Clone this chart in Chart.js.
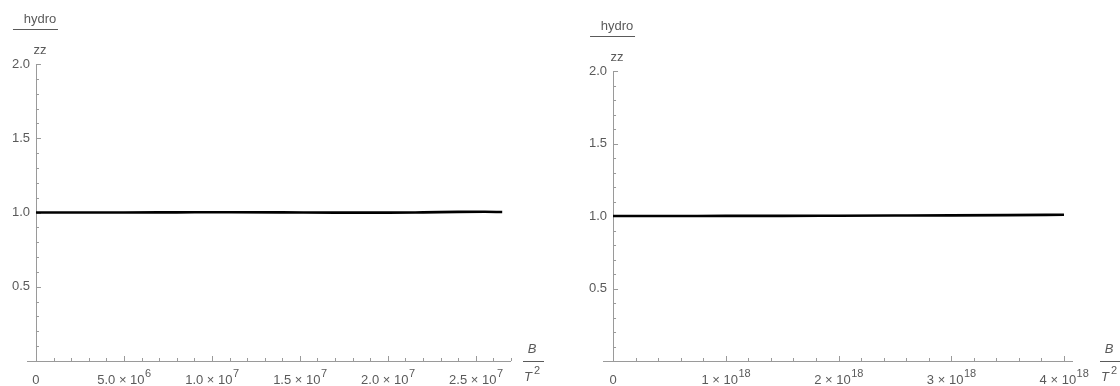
<!DOCTYPE html>
<html>
<head>
<meta charset="utf-8">
<script src="https://cdn.jsdelivr.net/npm/chart.js@4"></script>
<style>
  html, body { margin: 0; padding: 0; background: #fff; }
  #wrap { position: relative; width: 1120px; height: 386px; }
  .panel { position: absolute; top: 0; width: 560px; height: 386px; }
</style>
</head>
<body>
<div id="wrap">
  <div class="panel" style="left:0"><canvas id="graficoEsq" width="560" height="386"></canvas></div>
  <div class="panel" style="left:560px"><canvas id="graficoDir" width="560" height="386"></canvas></div>
</div>
<script>
// dados
const esqX = [0, 2e6, 5e6, 8e6, 1.1e7, 1.4e7, 1.7e7, 2.0e7, 2.2e7, 2.4e7, 2.55e7, 2.65e7];
const esqY = [1.000, 1.000, 1.000, 1.001, 1.002, 1.001, 0.999, 0.999, 1.001, 1.004, 1.005, 1.003];
const dirX = [0, 5e17, 1e18, 1.5e18, 2e18, 2.5e18, 3e18, 3.5e18, 4e18];
const dirY = [1.000, 1.000, 1.001, 1.001, 1.002, 1.003, 1.004, 1.006, 1.009];

const esqTicksX = [0, 5e6, 1e7, 1.5e7, 2e7, 2.5e7];
const esqRotulosX = [['0', ''], ['5.0 \u00d7 10', '6'], ['1.0 \u00d7 10', '7'], ['1.5 \u00d7 10', '7'], ['2.0 \u00d7 10', '7'], ['2.5 \u00d7 10', '7']];
const dirTicksX = [0, 1e18, 2e18, 3e18, 4e18];
const dirRotulosX = [['0', ''], ['1 \u00d7 10', '18'], ['2 \u00d7 10', '18'], ['3 \u00d7 10', '18'], ['4 \u00d7 10', '18']];
const ticksY = [0.5, 1.0, 1.5, 2.0];
const rotulosY = ['0.5', '1.0', '1.5', '2.0'];

const corTexto = '#5a5a5a';
const corEixo = '#9a9a9a';
const fonte = '"Liberation Sans", Arial, sans-serif';

// desenha eixos no estilo do Mathematica (eixos na origem, ticks para dentro)
const eixosPlugin = {
    id: 'eixos',
    beforeDatasetsDraw(chart, args, opts) {
        const ctx = chart.ctx;
        const sx = chart.scales.x, sy = chart.scales.y;
        const x0 = sx.getPixelForValue(0), y0 = sy.getPixelForValue(0);
        const area = chart.chartArea;
        ctx.save();
        ctx.strokeStyle = corEixo;
        ctx.lineWidth = 1;
        ctx.beginPath();
        ctx.moveTo(area.left, y0 + 0.5);
        ctx.lineTo(area.right, y0 + 0.5);
        ctx.moveTo(Math.round(x0) + 0.5, y0);
        ctx.lineTo(Math.round(x0) + 0.5, sy.getPixelForValue(2.0));
        // ticks menores e maiores do x
        for (let v = opts.passoX; v <= sx.max; v += opts.passoX) {
            const px = Math.round(sx.getPixelForValue(v)) + 0.5;
            const maior = opts.ticksX.some(t => Math.abs(t - v) < opts.passoX / 10);
            ctx.moveTo(px, y0);
            ctx.lineTo(px, y0 - (maior ? 5 : 3));
        }
        for (let i = 1; i <= 20; i++) {
            const v = i / 10;
            const py = Math.round(sy.getPixelForValue(v)) + 0.5;
            const maior = i % 5 === 0;
            ctx.moveTo(x0, py);
            ctx.lineTo(x0 + (maior ? 5 : 3), py);
        }
        ctx.stroke();

        ctx.fillStyle = corTexto;
        // rotulos y
        ctx.font = '13px ' + fonte;
        ctx.textAlign = 'right';
        ctx.textBaseline = 'middle';
        ticksY.forEach((v, i) => {
            ctx.fillText(rotulosY[i], x0 - 6, sy.getPixelForValue(v));
        });
        // rotulos x com expoente
        ctx.textAlign = 'left';
        ctx.textBaseline = 'alphabetic';
        opts.ticksX.forEach((v, i) => {
            const [base, exp] = opts.rotulosX[i];
            ctx.font = '13px ' + fonte;
            const wb = ctx.measureText(base).width;
            ctx.font = '11px ' + fonte;
            const we = exp ? ctx.measureText(exp).width : 0;
            const px = sx.getPixelForValue(v) - (wb + we) / 2;
            ctx.font = '13px ' + fonte;
            ctx.fillText(base, px, y0 + 23);
            if (exp) {
                ctx.font = '11px ' + fonte;
                ctx.fillText(exp, px + wb + 0.5, y0 + 16);
            }
        });
        // titulo do eixo y: hydro / zz
        const yTopo = sy.getPixelForValue(2.0);
        ctx.textAlign = 'center';
        ctx.textBaseline = 'middle';
        ctx.font = '13px ' + fonte;
        ctx.fillText('hydro', x0 + 4, yTopo - 45);
        ctx.fillText('zz', x0 + 4, yTopo - 14);
        ctx.strokeStyle = corTexto;
        ctx.beginPath();
        ctx.moveTo(x0 - 23, Math.round(yTopo - 35) + 0.5);
        ctx.lineTo(x0 + 22, Math.round(yTopo - 35) + 0.5);
        ctx.stroke();
        // titulo do eixo x: B / T^2
        const lx = opts.tituloX;
        ctx.font = 'italic 13px ' + fonte;
        ctx.fillText('B', lx + 9, y0 - 12);
        ctx.beginPath();
        ctx.moveTo(lx, y0 + 0.5);
        ctx.lineTo(lx + 21, y0 + 0.5);
        ctx.stroke();
        ctx.textAlign = 'left';
        ctx.fillText('T', lx + 1, y0 + 16);
        ctx.font = '11px ' + fonte;
        ctx.fillText('2', lx + 11, y0 + 10);
        ctx.restore();
    }
};

function criarGrafico(id, xs, ys, cfg) {
    const ctx = document.getElementById(id).getContext('2d');
    return new Chart(ctx, {
        type: 'line',
        data: {
            datasets: [{
                data: xs.map((x, i) => ({ x: x, y: ys[i] })),
                borderColor: '#000',
                borderWidth: 2.6,
                pointRadius: 0,
                cubicInterpolationMode: 'monotone',
                clip: false
            }]
        },
        options: {
            responsive: false,
            animation: false,
            devicePixelRatio: 1,
            layout: { padding: cfg.padding },
            plugins: {
                legend: { display: false },
                tooltip: { enabled: false },
                eixos: cfg.eixos
            },
            scales: {
                x: { type: 'linear', min: cfg.xMin, max: cfg.xMax, display: false },
                y: { type: 'linear', min: 0, max: 2.0, display: false }
            }
        },
        plugins: [eixosPlugin]
    });
}

criarGrafico('graficoEsq', esqX, esqY, {
    padding: { left: 27, right: 49, top: 64, bottom: 25 },
    xMin: -5.1e5, xMax: 2.70e7,
    eixos: { ticksX: esqTicksX, rotulosX: esqRotulosX, passoX: 1e6, tituloX: 523 }
});

criarGrafico('graficoDir', dirX, dirY, {
    padding: { left: 43, right: 47, top: 71, bottom: 25 },
    xMin: -0.089e18, xMax: 4.08e18,
    eixos: { ticksX: dirTicksX, rotulosX: dirRotulosX, passoX: 2e17, tituloX: 540 }
});
</script>
</body>
</html>
